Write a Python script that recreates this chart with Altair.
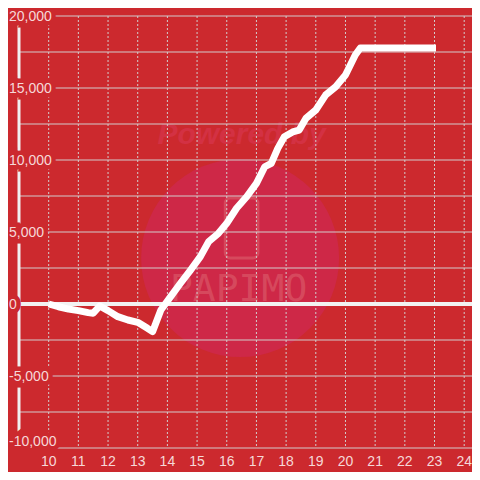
import altair as alt
import pandas as pd

# ---- data ----
hours = [10.0, 10.33, 10.67, 11.0, 11.33, 11.5, 11.72, 12.0, 12.33, 12.67, 13.0, 13.33, 13.5,
         13.78, 14.11, 14.44, 14.78, 15.11, 15.39, 15.72, 16.0, 16.33, 16.67, 17.0, 17.28, 17.5,
         17.72, 17.94, 18.22, 18.44, 18.67, 19.0, 19.33, 19.67, 20.0, 20.33, 20.5, 23.05]
profit = [0, -190, -350, -460, -600, -640, -140, -460, -880, -1110, -1270, -1690, -1920,
          -420, 510, 1440, 2360, 3290, 4330, 4910, 5600, 6650, 7450, 8380, 9530, 9770,
          10810, 11620, 11950, 12080, 12900, 13470, 14510, 15090, 15900, 17290, 17780, 17780]

x_ticks = list(range(10, 25))
x_tick_texts = [str(v) for v in x_ticks]
y_grid = [v for v in range(-10000, 20001, 2500) if v != 0]
y_label_values = [-5000, 0, 5000, 10000, 15000, 20000]
y_label_texts = ["-5,000", "0", "5,000", "10,000", "15,000", "20,000"]
y_bottom = -10000
y_bottom_text = "-10,000"
y_axis_at = 9

# watermark (decoration)
wm_center = {"x": 16.45, "y": 3190}
wm_powered = {"x": 16.5, "y": 11740, "t": "Powered by"}
wm_brand = {"x": 16.4, "y": 970, "t": "PAPIMO"}
wm_phone = {"x": 15.95, "x2": 17.05, "y": 7360, "y2": 3200}

BG = "#cc292e"
LABEL = "#f6d8d8"
GRID = "#d2cccc"

xs = alt.Scale(domain=[9, 24.263], nice=False, zero=False)
ys = alt.Scale(domain=[-10000, 20000], nice=False, zero=False)

def X(field="x:Q"):
    return alt.X(field, scale=xs, axis=None)

def Y(field="y:Q"):
    return alt.Y(field, scale=ys, axis=None)

circle = alt.Chart(pd.DataFrame([wm_center])).mark_circle(
    size=39200, color="#ce2847", opacity=1
).encode(x=X(), y=Y())

phone = alt.Chart(pd.DataFrame([wm_phone])).mark_rect(
    fillOpacity=0, stroke="#e07078", strokeOpacity=0.45, strokeWidth=3, cornerRadius=5
).encode(x=X(), x2="x2:Q", y=Y(), y2="y2:Q")

powered = alt.Chart(pd.DataFrame([wm_powered])).mark_text(
    fontSize=30, fontStyle="italic", fontWeight="bold", font="Liberation Sans",
    color="#e0406a", opacity=0.35
).encode(x=X(), y=Y(), text="t:N")

brand = alt.Chart(pd.DataFrame([wm_brand])).mark_text(
    fontSize=38, font="DejaVu Sans Mono", color="#e07078", opacity=0.45
).encode(x=X(), y=Y(), text="t:N")

hgrid = alt.Chart(pd.DataFrame({"y": y_grid})).mark_rule(
    color=GRID, strokeWidth=1
).encode(y=Y())

vgrid = alt.Chart(pd.DataFrame({"x": x_ticks})).mark_rule(
    color=GRID, strokeWidth=1, strokeDash=[2, 2]
).encode(x=X())

zero = alt.Chart(pd.DataFrame({"y": [0]})).mark_rule(
    color="#f2f2f2", strokeWidth=4
).encode(y=Y())

yaxis_line = alt.Chart(pd.DataFrame({"x": [y_axis_at]})).mark_rule(
    color="#f0f0f0", strokeWidth=3
).encode(x=X())

line = alt.Chart(pd.DataFrame({"x": hours, "y": profit})).mark_line(
    color="#ffffff", strokeWidth=7, strokeJoin="round", strokeCap="butt"
).encode(x=X(), y=Y())


def ylabel_layers(df, dy):
    common = dict(align="left", baseline="middle", dx=-10, dy=dy, fontSize=14,
                  font="Liberation Sans")
    mask = alt.Chart(df).mark_text(color=BG, stroke=BG, strokeWidth=9, **common).encode(
        x=X(), y=Y(), text="t:N")
    txt = alt.Chart(df).mark_text(color=LABEL, **common).encode(x=X(), y=Y(), text="t:N")
    return [mask, txt]


lab_df = pd.DataFrame({"x": [y_axis_at] * len(y_label_values),
                       "y": y_label_values, "t": y_label_texts})
bot_df = pd.DataFrame({"x": [y_axis_at], "y": [y_bottom], "t": [y_bottom_text]})

xlab_df = pd.DataFrame({"x": x_ticks, "y": [y_bottom] * len(x_ticks), "t": x_tick_texts})
xlabels = alt.Chart(xlab_df).mark_text(
    align="center", baseline="middle", dy=14, fontSize=14, font="Liberation Sans",
    color=LABEL
).encode(x=X(), y=Y(), text="t:N")

chart = alt.layer(
    circle, phone, powered, brand, hgrid, vgrid, zero, yaxis_line, line,
    *ylabel_layers(lab_df, 1), *ylabel_layers(bot_df, -6), xlabels
).properties(
    width=453, height=432, background=BG,
    padding={"left": 11, "top": 8, "right": 0, "bottom": 24},
    autosize=alt.AutoSizeParams(type="none")
).configure_view(stroke=None)

chart.save("out.html", embed_options={"renderer": "svg", "actions": False})
